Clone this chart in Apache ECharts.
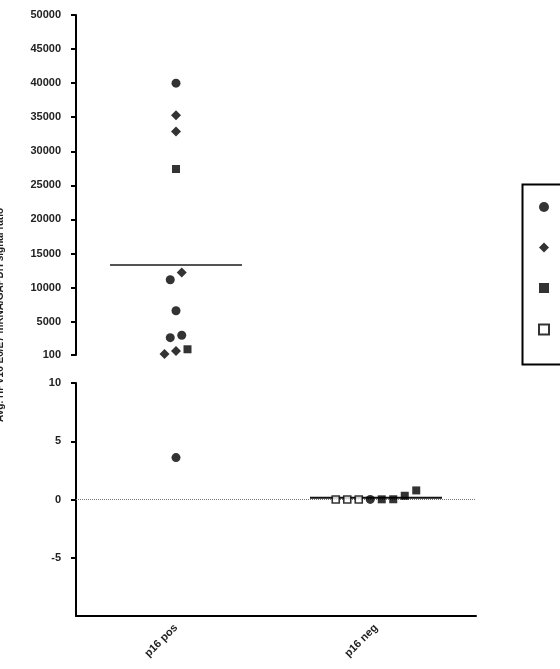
<!DOCTYPE html>
<html>
<head>
<meta charset="utf-8">
<script src="https://cdn.jsdelivr.net/npm/echarts@6/dist/echarts.min.js"></script>
<style>html,body{margin:0;padding:0;background:#fff}#c{width:560px;height:669px}</style>
</head>
<body>
<div id="c"></div>
<script>
// ---- data ----
const categories = ['p16 pos', 'p16 neg'];
const seriesNames = ['Group A', 'Group B', 'Group C', 'Group D'];
const posCircle = [40000, 11150, 6600, 2650, 3000, 3.6];
const posDiamond = [35300, 32900, 12200, 690, 250];
const posSquare = [27400, 940];
const posOpen = [];
const negCircle = [0.01];
const negDiamond = [];
const negSquare = [0.015, 0.02, 0.32, 0.78];
const negOpen = [0, 0, 0];
const topTicks = [100, 5000, 10000, 15000, 20000, 25000, 30000, 35000, 40000, 45000, 50000];
const bottomTicks = [-5, 0, 5, 10];
const yTitle = 'Avg. HPV16 E6/E7 mRNA/GAPDH signal ratio';

// ---- build ----
const FONT = 'Arial, "Liberation Sans", sans-serif';
const BREAK = 10; // values above go to the upper panel
const types = [
  {name: seriesNames[0], symbol: 'circle', size: 9, style: {color: '#000'}, pos: posCircle, neg: negCircle},
  {name: seriesNames[1], symbol: 'diamond', size: 10, style: {color: '#000'}, pos: posDiamond, neg: negDiamond},
  {name: seriesNames[2], symbol: 'rect', size: 8, style: {color: '#000'}, pos: posSquare, neg: negSquare},
  {name: seriesNames[3], symbol: 'rect', size: 7, style: {color: '#fff', borderColor: '#000', borderWidth: 1.6}, pos: posOpen, neg: negOpen}
];

const series = [];
[0, 1].forEach(panel => {
  types.forEach(t => {
    const data = [];
    [t.pos, t.neg].forEach((arr, ci) => {
      arr.forEach(v => {
        const inTop = v > BREAK;
        if ((panel === 0) === inTop) data.push({value: [ci, v]});
      });
    });
    series.push({
      type: 'scatter', name: t.name, xAxisIndex: panel, yAxisIndex: panel,
      symbol: t.symbol, symbolSize: t.size, itemStyle: t.style, data: data, z: 5
    });
  });
});

// means
const mean = a => a.reduce((s, x) => s + x, 0) / a.length;
const allPos = [].concat(posCircle, posDiamond, posSquare, posOpen);
const allNeg = [].concat(negCircle, negDiamond, negSquare, negOpen);
[allPos, allNeg].forEach((arr, ci) => {
  const m = mean(arr);
  const panel = m > BREAK ? 0 : 1;
  series.push({
    type: 'custom', xAxisIndex: panel, yAxisIndex: panel, z: 3, silent: true,
    encode: {x: 0, y: 1},
    data: [[ci, m]],
    renderItem: (params, api) => {
      const c = api.coord([api.value(0), api.value(1)]);
      return {type: 'line', shape: {x1: c[0] - 66, y1: c[1], x2: c[0] + 66, y2: c[1]},
        style: {stroke: panel === 0 ? '#555' : '#111', lineWidth: 2}};
    }
  });
});

// zero line
series.push({
  type: 'scatter', xAxisIndex: 1, yAxisIndex: 1, data: [], silent: true,
  markLine: {silent: true, symbol: ['none', 'none'], label: {show: false},
    lineStyle: {type: 'dotted', color: '#777', width: 1}, data: [{yAxis: 0}]}
});

const axisLineStyle = {color: '#000', width: 2};
const yLabel = {fontFamily: FONT, fontWeight: 'bold', fontSize: 11, color: '#222', margin: 15,
  formatter: v => String(v)};

const option = {
  animation: false,
  backgroundColor: '#fff',
  grid: [
    {left: 76, top: 15, width: 400, height: 340},
    {left: 76, top: 383, width: 400, height: 233}
  ],
  xAxis: [
    {gridIndex: 0, type: 'category', data: categories, show: false},
    {gridIndex: 1, type: 'category', data: categories,
      axisLine: {onZero: false, lineStyle: axisLineStyle},
      axisTick: {alignWithLabel: true, length: 4, lineStyle: axisLineStyle},
      axisLabel: {rotate: 45, fontFamily: FONT, fontWeight: 'bold', fontSize: 11, color: '#222', margin: 10},
      splitLine: {show: false}}
  ],
  yAxis: [
    {gridIndex: 0, type: 'value', min: 100, max: 50000,
      axisLine: {show: true, lineStyle: axisLineStyle},
      axisTick: {show: true, length: 5, lineStyle: axisLineStyle, customValues: topTicks},
      axisLabel: Object.assign({customValues: topTicks}, yLabel),
      splitLine: {show: false}},
    {gridIndex: 1, type: 'value', min: -10, max: 10,
      axisLine: {show: true, onZero: false, lineStyle: axisLineStyle},
      axisTick: {show: true, length: 5, lineStyle: axisLineStyle, customValues: bottomTicks},
      axisLabel: Object.assign({customValues: bottomTicks}, yLabel),
      splitLine: {show: false}}
  ],
  legend: {
    orient: 'vertical', left: 538, top: 202, itemWidth: 10, itemHeight: 10, itemGap: 30.5,
    data: seriesNames, formatter: () => '', selectedMode: false, padding: 0
  },
  graphic: [
    {type: 'rect', left: 520, top: 182, shape: {width: 60, height: 180},
      style: {fill: 'none', stroke: '#000', lineWidth: 2}},
    {type: 'text', x: 0, y: 315, rotation: Math.PI / 2,
      style: {text: yTitle, font: 'bold 10px ' + FONT, fill: '#222', align: 'center', verticalAlign: 'middle',
        textAlign: 'center', textVerticalAlign: 'middle'}}
  ],
  series: series
};

const chart = echarts.init(document.getElementById('c'));
chart.setOption(option);

// column-scatter layout: spread points that overlap vertically
const SPACING = 11.5, GAP = 10;
const groups = {};
series.forEach((s, si) => {
  if (s.type !== 'scatter') return;
  s.data.forEach((d, di) => {
    const py = chart.convertToPixel({xAxisIndex: s.xAxisIndex, yAxisIndex: s.yAxisIndex}, d.value)[1];
    const key = s.xAxisIndex + '_' + d.value[0];
    (groups[key] = groups[key] || []).push({si, di, v: d.value[1], py});
  });
});
Object.values(groups).forEach(pts => {
  pts.sort((a, b) => a.v - b.v);
  const clusters = [];
  pts.forEach(p => {
    const last = clusters[clusters.length - 1];
    if (last && Math.abs(last[last.length - 1].py - p.py) < GAP) last.push(p);
    else clusters.push([p]);
  });
  clusters.forEach(cl => {
    cl.forEach((p, k) => {
      series[p.si].data[p.di].symbolOffset = [(k - (cl.length - 1) / 2) * SPACING, 0];
    });
  });
});
chart.setOption({series: series});
</script>
</body>
</html>
